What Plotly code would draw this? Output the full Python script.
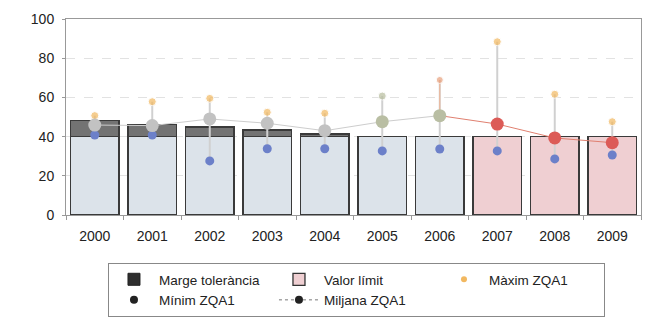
import plotly.graph_objects as go

years = ["2000", "2001", "2002", "2003", "2004", "2005", "2006", "2007", "2008", "2009"]
valor_limit = [40, 40, 40, 40, 40, 40, 40, 40, 40, 40]
marge_tolerancia = [8.1, 6.3, 4.9, 3.4, 1.4, 0, 0, 0, 0, 0]
maxim = [50.7, 57.8, 59.5, 52.4, 51.9, 60.7, 68.9, 88.4, 61.6, 47.6]
minim = [40.8, 40.8, 27.6, 33.8, 33.8, 32.7, 33.7, 32.7, 28.6, 30.6]
mitjana = [45.9, 45.6, 49.0, 46.8, 43.0, 47.6, 50.7, 46.4, 39.3, 36.9]

bar_colors = ["#DCE3EA"] * 7 + ["#EFCFD2"] * 3
mean_colors = ["#C2C2C2"] * 5 + ["#B9BEA3"] * 2 + ["#DC5B57"] * 3
max_colors = ["#F2B860"] * 5 + ["#B7BD9E", "#E8A07C"] + ["#F2B860"] * 3
min_color = "#6C80C9"

fig = go.Figure()

fig.add_trace(go.Bar(x=years, y=valor_limit, marker=dict(color=bar_colors, line=dict(color="#3A3A3A", width=1.4)),
                     showlegend=False, hoverinfo="skip"))
fig.add_trace(go.Bar(x=years, y=marge_tolerancia, marker=dict(color="#737373", line=dict(color="#3A3A3A", width=1.4)),
                     showlegend=False, hoverinfo="skip"))

# vertical ranges min-max
vx, vy = [], []
for yr, lo, hi in zip(years, minim, maxim):
    vx += [yr, yr, None]
    vy += [lo, hi, None]
fig.add_trace(go.Scatter(x=vx, y=vy, mode="lines", line=dict(color="#D0D0D0", width=2),
                         showlegend=False, hoverinfo="skip"))
# 2006 orange segment mean->max
fig.add_trace(go.Scatter(x=[years[6], years[6]], y=[mitjana[6], maxim[6]], mode="lines",
                         line=dict(color="#EDB89C", width=1.2), showlegend=False, hoverinfo="skip"))

# mean lines
fig.add_trace(go.Scatter(x=years[:7], y=mitjana[:7], mode="lines", line=dict(color="#CDCDCD", width=1),
                         showlegend=False, hoverinfo="skip"))
fig.add_trace(go.Scatter(x=years[6:], y=mitjana[6:], mode="lines", line=dict(color="#E08070", width=1),
                         showlegend=False, hoverinfo="skip"))

fig.add_trace(go.Scatter(x=years, y=maxim, mode="markers",
                         marker=dict(color=max_colors, size=[8] * 6 + [7] + [8] * 3), showlegend=False))
fig.add_trace(go.Scatter(x=years, y=minim, mode="markers",
                         marker=dict(color=min_color, size=9), showlegend=False))
fig.add_trace(go.Scatter(x=years, y=mitjana, mode="markers",
                         marker=dict(color=mean_colors, size=13), showlegend=False))

# legend entries
fig.add_trace(go.Bar(x=[None], y=[None], name="Marge tolerància", marker=dict(color="#2E2E2E", line=dict(color="#222", width=1))))
fig.add_trace(go.Bar(x=[None], y=[None], name="Valor límit", marker=dict(color="#EFCFD2", line=dict(color="#333", width=1.3))))
fig.add_trace(go.Scatter(x=[None], y=[None], name="Màxim ZQA1", mode="markers", marker=dict(color="#F2B860", size=6)))
fig.add_trace(go.Scatter(x=[None], y=[None], name="Mínim ZQA1", mode="markers", marker=dict(color="#222", size=8)))
fig.add_trace(go.Scatter(x=[None], y=[None], name="Miljana ZQA1", mode="lines+markers",
                         line=dict(color="#777", width=1, dash="dot"), marker=dict(color="#222", size=8)))

fig.update_layout(
    template="none",
    width=655, height=325,
    margin=dict(l=66, r=14, t=19, b=110, autoexpand=False),
    barmode="stack", bargap=0.16,
    paper_bgcolor="white", plot_bgcolor="white",
    font=dict(family="Liberation Sans, Arial, sans-serif", size=14, color="#222"),
    legend=dict(orientation="h", x=0.073, xanchor="left", y=-0.245, yanchor="top",
                bordercolor="#888", borderwidth=1, bgcolor="white",
                font=dict(size=13.5), entrywidth=110, traceorder="normal",
                tracegroupgap=0, itemwidth=40),
    xaxis=dict(type="category", range=[-0.5, 9.5], showline=True, linecolor="#999", linewidth=1, mirror=True,
               ticks="outside", tickson="boundaries", ticklen=4, tickcolor="#999",
               ticklabelstandoff=8, showgrid=False, automargin=False),
    yaxis=dict(range=[0, 100], dtick=20, showline=True, linecolor="#999", linewidth=1, mirror=True,
               ticks="outside", ticklen=3, tickcolor="#999", automargin=False, ticklabelstandoff=5,
               showgrid=True, gridcolor="#E2E2E2", griddash="dash", zeroline=False),
)

fig.write_html("out.html", config={"displayModeBar": False},
               post_script="document.body.style.margin='0';document.body.style.overflow='hidden';")
